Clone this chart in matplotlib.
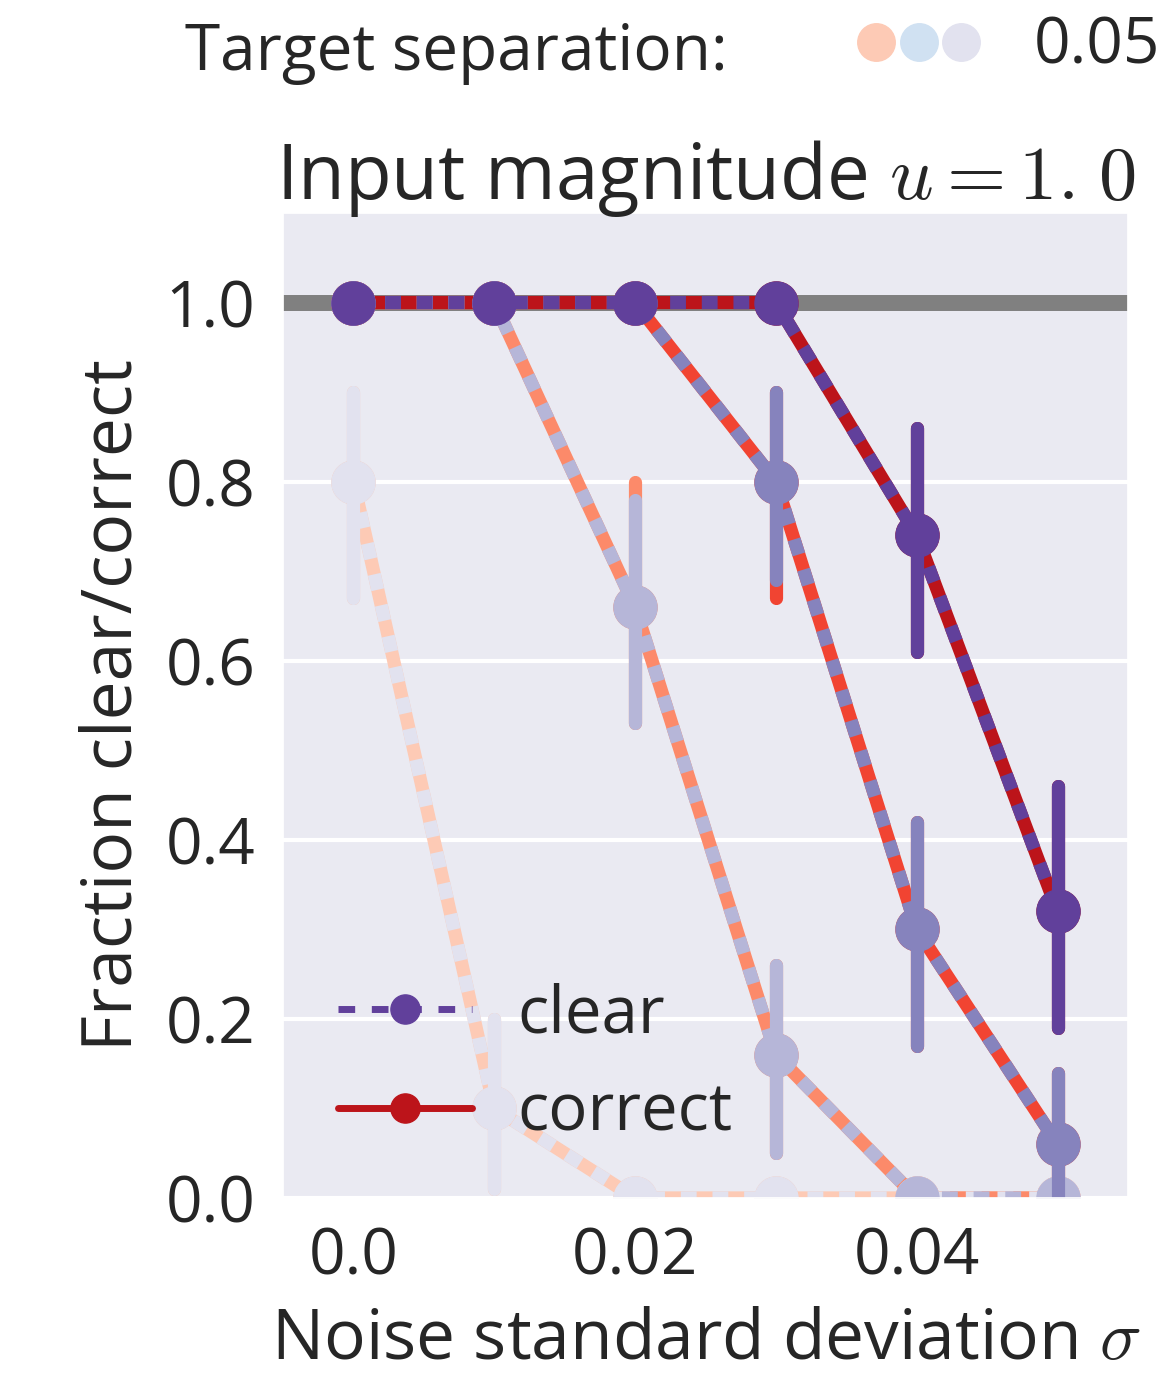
import matplotlib
matplotlib.use('Agg')
import matplotlib.pyplot as plt
from matplotlib.lines import Line2D
from matplotlib.legend_handler import HandlerTuple
import numpy as np
import seaborn as sns

sns.set_theme(style='darkgrid')
plt.rcParams['font.family'] = ['Open Sans', 'DejaVu Sans']
plt.rcParams['mathtext.fontset'] = 'cm'

noise = [0.0, 0.01, 0.02, 0.03, 0.04, 0.05]
xtick_pos = [0, 2, 4]
xtick_labels = ['0.0', '0.02', '0.04']
sep_labels = ['0.05']

# rows: target separation levels, lightest -> darkest
clear_mean = [
    [0.80, 0.10, 0.00, 0.00, 0.00, 0.00],
    [1.00, 1.00, 0.66, 0.16, 0.00, 0.00],
    [1.00, 1.00, 1.00, 0.80, 0.30, 0.06],
    [1.00, 1.00, 1.00, 1.00, 0.74, 0.32],
]
clear_lo = [
    [0.67, 0.01, 0.00, 0.00, 0.00, 0.00],
    [1.00, 1.00, 0.53, 0.05, 0.00, 0.00],
    [1.00, 1.00, 1.00, 0.69, 0.17, 0.00],
    [1.00, 1.00, 1.00, 1.00, 0.61, 0.19],
]
clear_hi = [
    [0.90, 0.20, 0.00, 0.00, 0.00, 0.00],
    [1.00, 1.00, 0.78, 0.26, 0.00, 0.00],
    [1.00, 1.00, 1.00, 0.90, 0.42, 0.14],
    [1.00, 1.00, 1.00, 1.00, 0.86, 0.46],
]
correct_mean = [
    [0.80, 0.10, 0.00, 0.00, 0.00, 0.00],
    [1.00, 1.00, 0.66, 0.16, 0.00, 0.00],
    [1.00, 1.00, 1.00, 0.80, 0.30, 0.06],
    [1.00, 1.00, 1.00, 1.00, 0.74, 0.32],
]
correct_lo = [
    [0.67, 0.01, 0.00, 0.00, 0.00, 0.00],
    [1.00, 1.00, 0.53, 0.05, 0.00, 0.00],
    [1.00, 1.00, 1.00, 0.67, 0.17, 0.00],
    [1.00, 1.00, 1.00, 1.00, 0.61, 0.19],
]
correct_hi = [
    [0.90, 0.20, 0.00, 0.00, 0.00, 0.00],
    [1.00, 1.00, 0.80, 0.26, 0.00, 0.00],
    [1.00, 1.00, 1.00, 0.90, 0.42, 0.14],
    [1.00, 1.00, 1.00, 1.00, 0.86, 0.46],
]

reds = sns.color_palette('Reds', 4)
purples = sns.color_palette('Purples', 4)
blues = sns.color_palette('Blues', 4)

fig = plt.figure(figsize=(11.6, 13.76), dpi=100)
ax = fig.add_axes([0.244, 0.1294, 0.7284, 0.7158])
ax.set_axisbelow(True)

x = np.arange(len(noise))
ax.axhline(1.0, color='gray', lw=11.5, zorder=1)

lw = 9.5
dash = (0, (1.2, 1.2))
for means, los, his, pal, ls in [(correct_mean, correct_lo, correct_hi, reds, '-'),
                                 (clear_mean, clear_lo, clear_hi, purples, dash)]:
    for i in range(len(means)):
        ax.plot(x, means[i], color=pal[i], lw=lw, ls=ls, marker='o', ms=31,
                dash_capstyle='butt', zorder=2)
        for j in x:
            ax.plot([j, j], [los[i][j], his[i][j]], color=pal[i], lw=lw,
                    solid_capstyle='round', zorder=2)

ax.set_xlim(-0.5, 5.5)
ax.set_ylim(0, 1.1)
ax.set_xticks(xtick_pos)
ax.set_xticklabels(xtick_labels)
ax.set_yticks([0.0, 0.2, 0.4, 0.6, 0.8, 1.0])
ax.tick_params(labelsize=46, length=0, pad=20)
ax.xaxis.grid(False)
ax.yaxis.grid(True, color='white', lw=3)
ax.set_xlabel(r'Noise standard deviation $\sigma$', fontsize=50, labelpad=12)
ax.set_ylabel('Fraction clear/correct', fontsize=50, labelpad=12)
ax.set_title(r'Input magnitude $u = 1.\hspace{0.1}0$', fontsize=55, pad=10)

h_clear = Line2D([], [], color=purples[3], lw=5, ls=(0, (2.4, 2.4)), marker='o', ms=21)
h_correct = Line2D([], [], color=reds[3], lw=5, marker='o', ms=21, solid_capstyle='round')
ax.legend([h_clear, h_correct], ['clear', 'correct'], loc='lower left', frameon=False,
          fontsize=47, handlelength=2.05, handletextpad=0.7, labelspacing=0.5,
          bbox_to_anchor=(0.065, 0.052), borderpad=0, borderaxespad=0)

fig.text(185 / 1160, 1 - 70 / 1376, 'Target separation:', fontsize=46, ha='left', va='baseline')
dots = tuple(Line2D([], [], ls='none', marker='o', ms=27, color=c)
             for c in (reds[0], blues[0], purples[0]))
fig.legend([dots], sep_labels, handler_map={tuple: HandlerTuple(ndivide=3, pad=0)},
           loc='center left', bbox_to_anchor=(855 / 1160, 1 - 47 / 1376), frameon=False,
           fontsize=46, handlelength=2.0, handletextpad=0.8, borderpad=0, borderaxespad=0)

fig.savefig('out.png', dpi=100)
